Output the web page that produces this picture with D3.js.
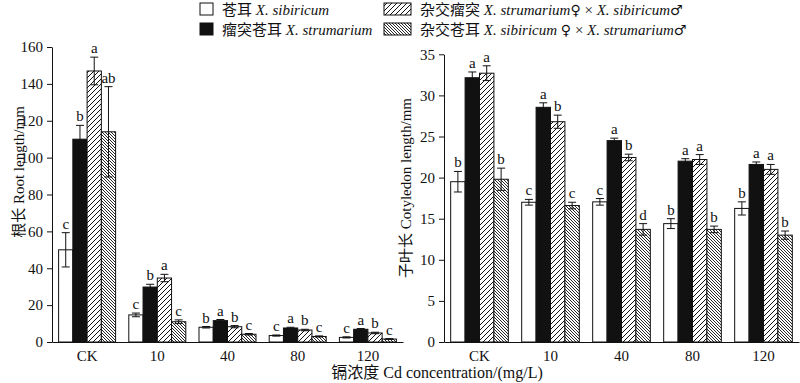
<!DOCTYPE html>
<html><head><meta charset="utf-8">
<script src="https://cdn.jsdelivr.net/npm/d3@7/dist/d3.min.js"></script>
<style>
body{margin:0;background:#fff;}
svg{display:block;}
text{font-family:"Liberation Serif","Times New Roman","Noto Sans CJK SC",serif;fill:#111;-webkit-font-smoothing:antialiased;}
</style></head>
<body><svg id="c" width="800" height="383"></svg>
<script>
const categories = ["CK","10","40","80","120"];
const seriesKeys = ["sib","stru","hybA","hybB"];

// Root length (mm)
const rootSib  = [50, 14.7, 8.0, 3.5, 2.5];
const rootStru = [110, 29.8, 11.6, 7.6, 6.9];
const rootHybA = [147, 34.7, 8.3, 6.5, 4.9];
const rootHybB = [114, 11, 4.2, 3.0, 1.6];
const rootSibErr  = [9.3, 1.0, 0.4, 0.3, 0.3];
const rootStruErr = [7.5, 1.5, 0.6, 0.4, 0.4];
const rootHybAErr = [7.5, 2.0, 0.6, 0.4, 0.4];
const rootHybBErr = [24.5, 1.0, 0.4, 0.3, 0.2];
const rootSibLet  = ["c","c","b","c","c"];
const rootStruLet = ["b","b","a","a","a"];
const rootHybALet = ["a","a","b","b","b"];
const rootHybBLet = ["ab","c","c","c","c"];

// Cotyledon length (mm)
const cotySib  = [19.5, 17.0, 17.05, 14.4, 16.25];
const cotyStru = [32.15, 28.55, 24.5, 22.0, 21.6];
const cotyHybA = [32.7, 26.8, 22.45, 22.2, 21.0];
const cotyHybB = [19.8, 16.6, 13.7, 13.7, 13.0];
const cotySibErr  = [1.25, 0.35, 0.4, 0.6, 0.8];
const cotyStruErr = [0.7, 0.55, 0.3, 0.3, 0.3];
const cotyHybAErr = [0.9, 0.8, 0.4, 0.6, 0.6];
const cotyHybBErr = [1.35, 0.4, 0.7, 0.4, 0.5];
const cotySibLet  = ["b","c","c","b","b"];
const cotyStruLet = ["a","a","a","a","a"];
const cotyHybALet = ["a","b","b","a","a"];
const cotyHybBLet = ["b","c","d","b","b"];

const rootTicks = [0,20,40,60,80,100,120,140,160];
const cotyTicks = [0,5,10,15,20,25,30,35];

const svg = d3.select("#c");
const defs = svg.append("defs");
const p1 = defs.append("pattern").attr("id","hatchA").attr("patternUnits","userSpaceOnUse")
  .attr("width",5).attr("height",5);
p1.append("rect").attr("width",5).attr("height",5).attr("fill","#fff");
p1.append("path").attr("d","M0,5L5,0M-1,1L1,-1M4,6L6,4").attr("stroke","#111").attr("stroke-width",1);
const p2 = defs.append("pattern").attr("id","hatchB").attr("patternUnits","userSpaceOnUse")
  .attr("width",3).attr("height",3);
p2.append("rect").attr("width",3).attr("height",3).attr("fill","#fff");
p2.append("path").attr("d","M0,0L3,3M-1,2L1,4M2,-1L4,1").attr("stroke","#111").attr("stroke-width",0.9);

const fills = {sib:"#fff", stru:"#111", hybA:"url(#hatchA)", hybB:"url(#hatchB)"};

function panel(opt){
  const x0 = d3.scaleBand().domain(categories).range(opt.xr).paddingInner(0.188).paddingOuter(0.094);
  const x1 = d3.scaleBand().domain(seriesKeys).range([0, x0.bandwidth()]);
  const y = d3.scaleLinear().domain(opt.dom).range(opt.yr);
  const g = svg.append("g");
  opt.series.forEach((s,si)=>{
    const key = seriesKeys[si];
    categories.forEach((c,i)=>{
      const bx = x0(c)+x1(key);
      const v = s.vals[i], e = s.err[i];
      g.append("rect").attr("x",bx).attr("y",y(v)).attr("width",x1.bandwidth()).attr("height",y(0)-y(v))
        .attr("fill",fills[key]).attr("stroke","#111").attr("stroke-width",1);
      const cx = bx + x1.bandwidth()/2;
      g.append("line").attr("x1",cx).attr("x2",cx).attr("y1",y(v+e)).attr("y2",y(Math.max(0,v-e))).attr("stroke","#111").attr("stroke-width",1);
      [v+e, Math.max(0,v-e)].forEach(t=>{
        g.append("line").attr("x1",cx-4).attr("x2",cx+4).attr("y1",y(t)).attr("y2",y(t)).attr("stroke","#111").attr("stroke-width",1);
      });
      g.append("text").attr("x",cx).attr("y",y(v+e)-4).attr("text-anchor","middle")
        .attr("font-size",15).attr("fill","#111").text(s.lets[i]);
    });
  });
  const ya = g.append("g").attr("transform",`translate(${opt.xr[0]},0)`)
    .call(d3.axisLeft(y).tickValues(opt.ticks).tickSize(5).tickSizeOuter(0));
  ya.select(".domain").attr("stroke","#111");
  ya.selectAll(".tick line").attr("stroke","#111");
  ya.selectAll("text").attr("font-size",15).attr("font-family","Liberation Serif").attr("fill","#111").attr("dx","-1");
  const xa = g.append("g").attr("transform",`translate(0,${y(0)})`)
    .call(d3.axisBottom(x0).tickSize(0).tickSizeOuter(0));
  xa.select(".domain").attr("stroke","#111");
  xa.selectAll("text").attr("font-size",15).attr("font-family","Liberation Serif").attr("fill","#111").attr("dy","1.05em");
  g.append("text").attr("transform",`translate(${opt.tx},${opt.ty}) rotate(-90)`)
    .attr("text-anchor","middle").attr("font-size",15).attr("fill","#111").text(opt.title);
}

panel({xr:[52,403], yr:[342,47], dom:[0,160], ticks:rootTicks, tx:24, ty:172, title:"根长 Root length/mm",
  series:[{vals:rootSib,err:rootSibErr,lets:rootSibLet},{vals:rootStru,err:rootStruErr,lets:rootStruLet},
          {vals:rootHybA,err:rootHybAErr,lets:rootHybALet},{vals:rootHybB,err:rootHybBErr,lets:rootHybBLet}]});
panel({xr:[444,799], yr:[342,54.3], dom:[0,35], ticks:cotyTicks, tx:411, ty:188, title:"子叶长 Cotyledon length/mm",
  series:[{vals:cotySib,err:cotySibErr,lets:cotySibLet},{vals:cotyStru,err:cotyStruErr,lets:cotyStruLet},
          {vals:cotyHybA,err:cotyHybAErr,lets:cotyHybALet},{vals:cotyHybB,err:cotyHybBErr,lets:cotyHybBLet}]});

svg.append("text").attr("x",437).attr("y",378).attr("text-anchor","middle").attr("font-size",16).attr("fill","#111")
  .text("镉浓度 Cd concentration/(mg/L)");

const legend = [
  {key:"sib", x:200, y:3, w:13, parts:[["苍耳 ",0],["X. sibiricum",1]]},
  {key:"stru", x:200, y:23, w:13, parts:[["瘤突苍耳 ",0],["X. strumarium",1]]},
  {key:"hybA", x:384, y:3, w:27, parts:[["杂交瘤突 ",0],["X. strumarium",1],["♀",2],[" × ",0],["X. sibiricum",1],["♂",2]]},
  {key:"hybB", x:384, y:23, w:27, parts:[["杂交苍耳 ",0],["X. sibiricum",1],[" ",0],["♀",2],[" × ",0],["X. strumarium",1],["♂",2]]}
];
legend.forEach(l=>{
  svg.append("rect").attr("x",l.x).attr("y",l.y).attr("width",l.w).attr("height",12)
    .attr("fill",fills[l.key]).attr("stroke","#111").attr("stroke-width",1);
  const t = svg.append("text").attr("x",l.x+l.w+9).attr("y",l.y+11.5).attr("font-size",15).attr("fill","#111");
  l.parts.forEach(p=>{
    const ts = t.append("tspan").attr("font-style",p[1]===1?"italic":"normal").text(p[0]);
    if(p[1]===2) ts.attr("font-size",14).attr("font-family","DejaVu Sans");
  });
});
</script></body></html>
